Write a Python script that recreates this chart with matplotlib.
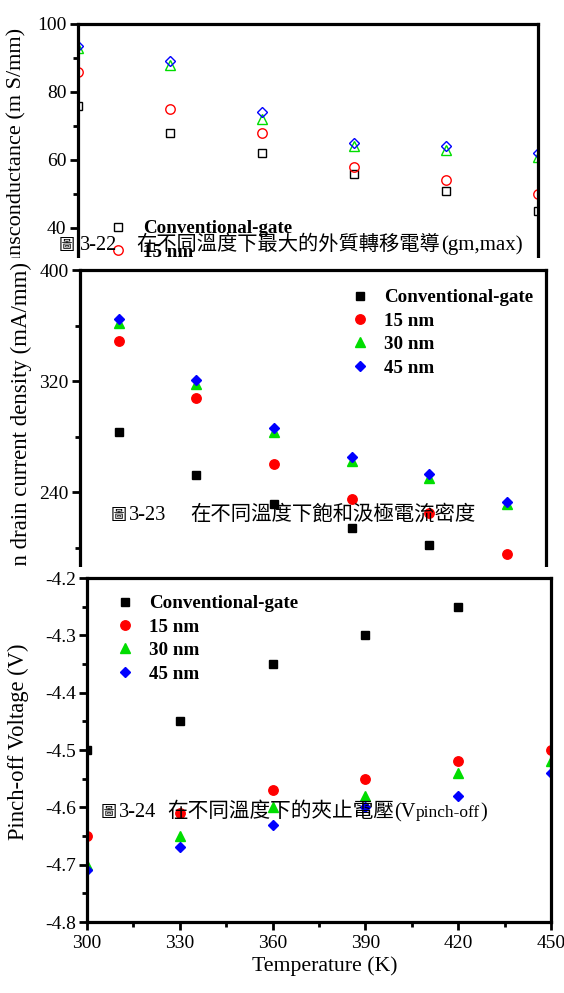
import numpy as np
import matplotlib
matplotlib.use("Agg")
import matplotlib.pyplot as plt
from matplotlib.patches import Rectangle
from matplotlib.text import Annotation
from matplotlib.ticker import MultipleLocator, FormatStrFormatter

plt.rcParams["font.family"] = ["Liberation Serif", "Noto Sans CJK TC"]
plt.rcParams["axes.unicode_minus"] = False

# --- data ---
temps = [300, 330, 360, 390, 420, 450]
series = ["Conventional-gate", "15 nm", "30 nm", "45 nm"]

# Fig 3-22: max extrinsic transconductance (mS/mm)
gm_conv = [76, 68, 62, 56, 51, 45]
gm_15 = [86, 75, 68, 58, 54, 50]
gm_30 = [93, 88, 72, 64, 63, 61]
gm_45 = [93.5, 89, 74, 65, 64, 62]

# Fig 3-23: saturation drain current density (mA/mm)
ids_conv = [283, 252, 231, 214, 202, 180]   # last point sits below the crop
ids_15 = [349, 308, 260, 235, 225, 195]
ids_30 = [362, 318, 283, 262, 250, 231]
ids_45 = [365, 321, 286, 265, 253, 233]

# Fig 3-24: pinch-off voltage (V)
vp_conv = [-4.50, -4.45, -4.35, -4.30, -4.25, np.nan]  # 450 K not visible
vp_15 = [-4.65, -4.61, -4.57, -4.55, -4.52, -4.50]
vp_30 = [-4.70, -4.65, -4.60, -4.58, -4.54, -4.52]
vp_45 = [-4.71, -4.67, -4.63, -4.60, -4.58, -4.54]

colors = ["black", "#ff0000", "#00dd00", "#0000ff"]
markers = ["s", "o", "^", "D"]
msizes = [6, 6.8, 6.8, 5.2]

W, H = 564, 993
fig = plt.figure(figsize=(W / 100, H / 100), dpi=100)


def box(l, r, t, b):
    return [l / W, 1 - b / H, (r - l) / W, (b - t) / H]


def style(ax, zo):
    ax.set_zorder(zo)
    for s in ax.spines.values():
        s.set_linewidth(2.3)
    ax.tick_params(which="both", direction="out", top=False, right=False,
                   width=2, labelsize=14, pad=2)
    ax.tick_params(which="major", length=6)
    ax.tick_params(which="minor", length=3.5)


def legend(ax, handles, left, top):
    ax.legend(handles, series, loc="upper left",
              bbox_to_anchor=(left / W, 1 - top / H), bbox_transform=fig.transFigure,
              frameon=False, borderpad=0, borderaxespad=0, handlelength=1.0,
              handletextpad=0.8, labelspacing=0.32, numpoints=1,
              prop={"weight": "bold", "size": 13.7})


def caption(pieces, x0, ybase, zo):
    # pieces: (text, fontsize, gap in px before it)
    txt, size, _ = pieces[0]
    prev = fig.text(x0 / W, 1 - ybase / H, txt, ha="left", va="baseline",
                    fontsize=size, zorder=zo)
    for txt, size, gap in pieces[1:]:
        a = Annotation(txt, xy=(1, 1 - ybase / H), xycoords=(prev, "figure fraction"),
                       xytext=(gap, 0), textcoords="offset pixels",
                       ha="left", va="baseline", fontsize=size,
                       annotation_clip=False)
        a.set_zorder(zo)
        fig.add_artist(a)
        prev = a


# ---------------- panel 1 ----------------
ax1 = fig.add_axes(box(77.5, 538, 24, 296))
style(ax1, 1)
h1 = []
for vals, c, m, ms in zip([gm_conv, gm_15, gm_30, gm_45], colors, markers, msizes):
    ln, = ax1.plot(temps, vals, ls="none", marker=m, ms=ms, mfc="none", mec=c, mew=1)
    h1.append(ln)
ax1.set_xlim(300, 450)
ax1.set_ylim(20, 100)
ax1.yaxis.set_major_locator(MultipleLocator(20))
ax1.yaxis.set_minor_locator(MultipleLocator(10))
legend(ax1, h1, 108.7, 220)
fig.text(16.5 / W, 1 - 28 / H, "Transconductance (m S/mm)", rotation=90,
         ha="center", va="top", fontsize=16, zorder=1.1)
caption([("圖", 11.5, 0), ("3-22", 14.7, 5),
         ("在不同溫度下最大的外質轉移電導", 14.6, 19), ("(gm,max)", 15, 1)],
        59, 250, 1.2)

fig.add_artist(Rectangle((0, 0), 1, (H - 258) / H, transform=fig.transFigure,
                         facecolor="white", edgecolor="none", zorder=1.5))

# ---------------- panel 2 ----------------
ax2 = fig.add_axes(box(80, 545.5, 270, 603))
style(ax2, 2)
h2 = []
for vals, c, m, ms in zip([ids_conv, ids_15, ids_30, ids_45], colors, markers, msizes):
    ln, = ax2.plot(temps, vals, ls="none", marker=m, ms=ms, mfc=c, mec=c)
    h2.append(ln)
ax2.set_xlim(285, 465)
ax2.set_ylim(160, 400)
ax2.yaxis.set_major_locator(MultipleLocator(80))
ax2.yaxis.set_minor_locator(MultipleLocator(40))
legend(ax2, h2, 350, 289)
fig.text(21 / W, 1 - 262 / H, "Saturation drain current density (mA/mm)", rotation=90,
         ha="center", va="top", fontsize=16.5, zorder=2.1)
caption([("圖", 11.5, 0), ("3-23", 14.7, 2),
         ("在不同溫度下飽和汲極電流密度", 14.7, 24)],
        111, 520, 2.2)

fig.add_artist(Rectangle((0, 0), 1, (H - 567) / H, transform=fig.transFigure,
                         facecolor="white", edgecolor="none", zorder=2.5))

# ---------------- panel 3 ----------------
ax3 = fig.add_axes(box(87, 551, 578, 922))
style(ax3, 3)
h3 = []
for vals, c, m, ms in zip([vp_conv, vp_15, vp_30, vp_45], colors, markers, msizes):
    ln, = ax3.plot(temps, vals, ls="none", marker=m, ms=ms, mfc=c, mec=c)
    h3.append(ln)
ax3.set_xlim(300, 450)
ax3.set_ylim(-4.8, -4.2)
ax3.xaxis.set_major_locator(MultipleLocator(30))
ax3.xaxis.set_minor_locator(MultipleLocator(15))
ax3.yaxis.set_major_locator(MultipleLocator(0.1))
ax3.yaxis.set_minor_locator(MultipleLocator(0.05))
ax3.yaxis.set_major_formatter(FormatStrFormatter("%.1f"))
ax3.tick_params(axis="x", pad=3)
legend(ax3, h3, 115, 595)
fig.text(18 / W, 1 - 742 / H, "Pinch-off Voltage (V)", rotation=90,
         ha="center", va="center", fontsize=16.3, zorder=3.1)
fig.text(325 / W, 1 - 966 / H, "Temperature (K)", ha="center", va="center",
         fontsize=15.7, zorder=3.1)
caption([("圖", 11.5, 0), ("3-24", 14.7, 2),
         ("在不同溫度下的夾止電壓", 14.9, 11), ("(V", 14.7, 0),
         ("pinch-off", 12.5, 0), (")", 14.7, 0)],
        101, 817, 3.2)

plt.savefig("out.png", dpi=100)
plt.close()
